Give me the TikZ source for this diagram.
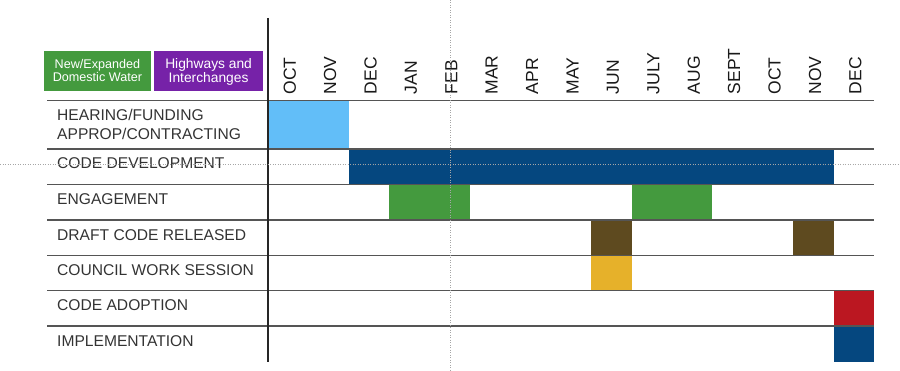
\documentclass[tikz,border=0pt]{standalone}
\usepackage{fontspec}
\setmainfont{Liberation Sans}
\definecolor{lgreen}{HTML}{449A3E}
\definecolor{lpurple}{HTML}{7622A8}
\definecolor{cyanbar}{HTML}{62BEF8}
\definecolor{navybar}{HTML}{05477F}
\definecolor{greenbar}{HTML}{449A3E}
\definecolor{brownbar}{HTML}{5E4A1F}
\definecolor{yellowbar}{HTML}{E6B12A}
\definecolor{redbar}{HTML}{BB1721}
\definecolor{gridgray}{HTML}{555555}
\definecolor{labeltext}{HTML}{333333}
\begin{document}
\begin{tikzpicture}[x=1pt,y=-1pt,
  gridline/.style={draw=gridgray,line width=1.3pt},
  axisline/.style={draw=black!85,line width=1.3pt},
  guide/.style={draw=gray!70,dotted,line width=0.5pt},
  month/.style={rotate=90,anchor=west,inner sep=0pt,text depth=0pt,font=\fontsize{17.5}{17.5}\selectfont,text=black!90},
  rowlabel/.style={anchor=base west,inner sep=0pt,font=\fontsize{15.6}{18.6}\selectfont,text=labeltext,align=left},
  legendbox/.style={inner sep=0pt,text=white,align=center}]
\useasboundingbox (0,0) rectangle (900,371);
% bars
\def\cw{40.4}
\def\xs{268}
\fill[cyanbar]   (\xs,100.7) rectangle (\xs+2*\cw,149);
\fill[navybar]   (\xs+2*\cw,149) rectangle (\xs+14*\cw,184.3);
\fill[greenbar]  (\xs+3*\cw,184.3) rectangle (\xs+5*\cw,220);
\fill[greenbar]  (\xs+9*\cw,184.3) rectangle (\xs+11*\cw,220);
\fill[brownbar]  (\xs+8*\cw,220) rectangle (\xs+9*\cw,255.7);
\fill[brownbar]  (\xs+13*\cw,220) rectangle (\xs+14*\cw,255.7);
\fill[yellowbar] (\xs+8*\cw,255.7) rectangle (\xs+9*\cw,290.7);
\fill[redbar]    (\xs+14*\cw,290.7) rectangle (\xs+15*\cw,326);
\fill[navybar]   (\xs+14*\cw,326) rectangle (\xs+15*\cw,362);
% grid lines
\foreach \yy in {100.7,149,184.3,220,255.7,290.7,326}
  \draw[gridline] (47,\yy) -- (874,\yy);
\coordinate (vtop) at (268,18);
\coordinate (vbot) at (268,362);
\draw[axisline] (vtop) -- (vbot);
% legend
\fill[lgreen] (44,50.7) rectangle (150.7,91);
\fill[lpurple] (154,50.7) rectangle (263.3,91);
\node[legendbox,font=\fontsize{12.6}{13}\selectfont] (leg1) at (97.4,70.8) {New/Expanded\\Domestic Water};
\node[legendbox,font=\fontsize{13.8}{13.4}\selectfont] (leg2) at (208.6,72) {Highways and\\Interchanges};
% months
\foreach \m [count=\i from 0] in {OCT,NOV,DEC,JAN,FEB,MAR,APR,MAY,JUN,JULY,AUG,SEPT,OCT,NOV,DEC}
  \node[month] (m\i) at (\xs+\i*\cw+\cw/2+1.5,94.5) {\m};
% row labels
\node[rowlabel] (r1) at (57,139.3) {HEARING/FUNDING\\APPROP/CONTRACTING};
\node[rowlabel] (r2) at (57,169) {CODE DEVELOPMENT};
\node[rowlabel] (r3) at (57,204.5) {ENGAGEMENT};
\node[rowlabel] (r4) at (57,240.2) {DRAFT CODE RELEASED};
\node[rowlabel] (r5) at (57,275.5) {COUNCIL WORK SESSION};
\node[rowlabel] (r6) at (57,311) {CODE ADOPTION};
\node[rowlabel] (r7) at (57,346.5) {IMPLEMENTATION};
% guides
\draw[guide] (450.3,0) -- (450.3,371);
\draw[guide] (0,164) -- (900,164);
\end{tikzpicture}
\end{document}
